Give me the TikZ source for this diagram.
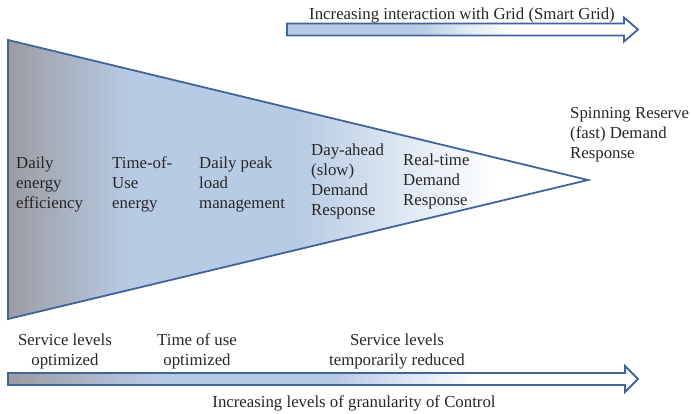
\documentclass[tikz,border=0pt]{standalone}
\usepackage{fontspec}
\setmainfont{Liberation Serif}
\usepackage{xcolor}
\usepackage{tikz}
\usetikzlibrary{positioning}

\definecolor{fangray}{RGB}{156,156,162}
\definecolor{fanblue}{RGB}{184,203,228}
\definecolor{fanpale}{RGB}{222,231,243}
\definecolor{edgeblue}{RGB}{64,100,156}
\pgfdeclarehorizontalshading{fanfill}{100bp}{color(0bp)=(fangray); color(25bp)=(fangray); color(35.5bp)=(fanblue); color(50bp)=(fanblue); color(59bp)=(fanpale); color(67bp)=(white); color(100bp)=(white)}
\pgfdeclarehorizontalshading{gridfill}{100bp}{color(0bp)=(fanblue); color(25bp)=(fanblue); color(44bp)=(fanblue); color(50bp)=(fanpale); color(57bp)=(white); color(100bp)=(white)}
\pgfdeclarehorizontalshading{controlfill}{100bp}{color(0bp)=(fangray); color(25bp)=(fangray); color(37bp)=(fanblue); color(51bp)=(fanblue); color(57bp)=(fanpale); color(62.5bp)=(white); color(100bp)=(white)}

\begin{document}
\begin{tikzpicture}[
  x=1pt, y=-1pt,
  font=\fontsize{16.8}{20}\selectfont,
  stage/.style={inner sep=0pt, align=left, anchor=north west, text=black!85},
  level/.style={inner sep=0pt, align=center, anchor=north, text=black!85},
  axislabel/.style={inner sep=0pt, anchor=base, text=black!85},
  outline/.style={draw=edgeblue, line width=1.8pt, line join=miter}
]
\useasboundingbox (0,0) rectangle (691,413);
\shadedraw[outline, shading=fanfill] (8,40) -- (588,180) -- (8,319) -- cycle;
\shadedraw[outline, shading=gridfill] (287,23.5) -- (624,23.5) -- (624,17.5) -- (638,29.5) -- (624,41.5) -- (624,35.5) -- (287,35.5) -- cycle;
\shadedraw[outline, shading=controlfill] (8,373) -- (625,373) -- (625,366) -- (638,379) -- (625,392) -- (625,385) -- (8,385) -- cycle;
\node[stage] (efficiency) at (16,156.5) {Daily\\energy\\efficiency};
\node[stage] (touenergy) at (112,156.5) {Time-of-\\Use\\energy};
\node[stage] (peak) at (199,156.5) {Daily peak\\load\\management};
\node[stage] (dayahead) at (311,143.5) {Day-ahead\\(slow)\\Demand\\Response};
\node[stage] (realtime) at (403,153.5) {Real-time\\Demand\\Response};
\node[stage] (spinning) at (570,107.5) {Spinning Reserve\\(fast) Demand\\Response};
\node[level] (serviceopt) at (65,333.5) {Service levels\\optimized};
\node[level] (touopt) at (197,333.5) {Time of use\\optimized};
\node[level] (reduced) at (397,333.5) {Service levels\\temporarily reduced};
\node[axislabel] (gridlabel) at (462,19) {Increasing interaction with Grid (Smart Grid)};
\node[axislabel] (controllabel) at (354,407) {Increasing levels of granularity of Control};
\end{tikzpicture}
\end{document}
